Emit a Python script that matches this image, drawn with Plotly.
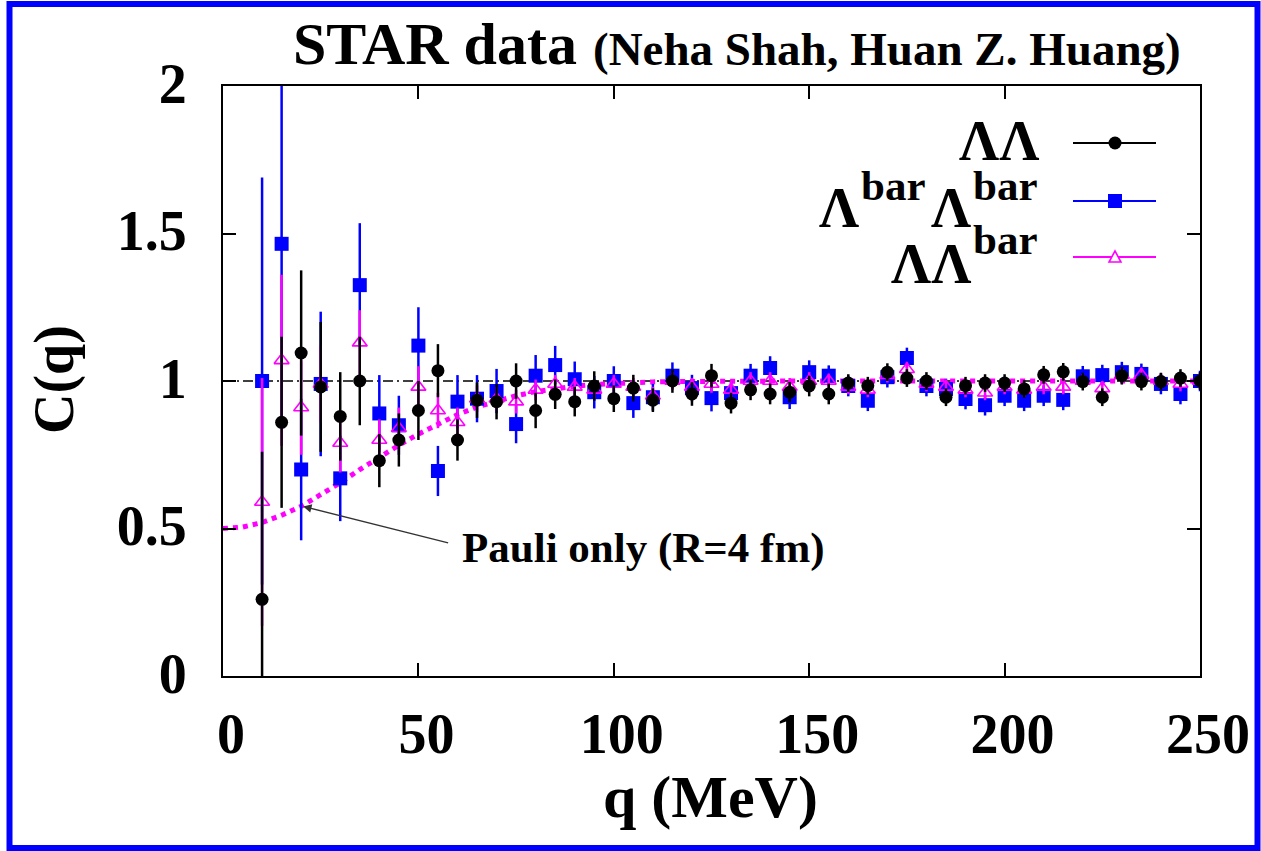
import plotly.graph_objects as go

# Relative momentum bins (MeV)
q = list(range(10, 251, 5))

# Lambda-Lambda correlation
c_ll = [0.26, 0.86, 1.095, 0.98, 0.88, 1.00, 0.73, 0.80, 0.90, 1.035,
        0.80, 0.935, 0.93, 1.00, 0.90, 0.955, 0.93, 0.983, 0.94, 0.976,
        0.935, 1.00, 0.956, 1.018, 0.925, 0.97, 0.956, 0.962, 0.983, 0.956,
        0.993, 0.984, 1.03, 1.01, 1.00, 0.945, 0.984, 0.993, 0.993, 0.973,
        1.021, 1.031, 0.998, 0.945, 1.018, 0.998, 0.998, 1.01, 1.00]
e_ll = [0.50, 0.29, 0.28, 0.22, 0.15, 0.15, 0.09, 0.09, 0.10, 0.09,
        0.07, 0.06, 0.06, 0.06, 0.06, 0.05, 0.05, 0.05, 0.045, 0.045,
        0.04, 0.04, 0.04, 0.04, 0.035, 0.035, 0.035, 0.035, 0.035, 0.035,
        0.03, 0.03, 0.03, 0.03, 0.03, 0.03, 0.03, 0.03, 0.03, 0.03,
        0.03, 0.03, 0.03, 0.03, 0.03, 0.03, 0.03, 0.03, 0.03]

# anti-Lambda anti-Lambda correlation
c_bb = [1.00, 1.465, 0.70, 0.99, 0.67, 1.325, 0.89, 0.85, 1.12, 0.695,
        0.93, 0.94, 0.966, 0.854, 1.018, 1.054, 1.006, 0.962, 1.00, 0.925,
        0.945, 1.018, 0.976, 0.942, 0.959, 1.018, 1.044, 0.945, 1.03, 1.018,
        0.983, 0.933, 1.013, 1.078, 0.983, 0.973, 0.939, 0.918, 0.95, 0.933,
        0.95, 0.936, 1.016, 1.02, 1.03, 1.024, 0.99, 0.956, 1.00]
e_bb = [0.69, 0.60, 0.24, 0.245, 0.145, 0.21, 0.13, 0.10, 0.13, 0.085,
        0.09, 0.08, 0.075, 0.065, 0.07, 0.065, 0.06, 0.055, 0.05, 0.05,
        0.045, 0.045, 0.045, 0.045, 0.04, 0.04, 0.04, 0.04, 0.04, 0.035,
        0.035, 0.035, 0.035, 0.035, 0.035, 0.035, 0.035, 0.035, 0.035, 0.035,
        0.035, 0.035, 0.035, 0.035, 0.035, 0.035, 0.035, 0.035, 0.035]

# Lambda anti-Lambda correlation
c_lb = [0.59, 1.07, 0.91, 0.99, 0.79, 1.13, 0.80, 0.84, 0.98, 0.90,
        0.86, 0.94, 0.94, 0.93, 0.97, 0.99, 0.98, 0.97, 0.99, 0.98,
        0.95, 1.00, 0.98, 0.99, 0.97, 1.00, 1.00, 0.98, 1.00, 1.00,
        0.98, 0.97, 1.02, 1.04, 0.99, 0.98, 0.97, 0.96, 0.98, 0.97,
        0.98, 0.98, 1.00, 0.975, 1.02, 1.02, 1.00, 0.99, 1.00]
e_lb = [0.42, 0.29, 0.16, 0.13, 0.10, 0.11, 0.07, 0.07, 0.07, 0.06,
        0.05, 0.045, 0.04, 0.04, 0.035, 0.03, 0.03, 0.03, 0.03, 0.03,
        0.03, 0.03, 0.03, 0.03, 0.03, 0.03, 0.03, 0.03, 0.03, 0.025,
        0.025, 0.025, 0.025, 0.025, 0.025, 0.025, 0.025, 0.025, 0.025, 0.025,
        0.025, 0.025, 0.025, 0.025, 0.025, 0.025, 0.025, 0.025, 0.025]

# Pauli-only expectation for R = 4 fm
q_pauli = list(range(0, 251, 5))
c_pauli = [0.50, 0.505, 0.52, 0.545, 0.575, 0.613, 0.655, 0.70, 0.742, 0.782,
           0.82, 0.855, 0.886, 0.912, 0.933, 0.95, 0.964, 0.975, 0.982, 0.988,
           0.992, 0.995, 0.997, 0.998, 0.999, 1.0, 1.0, 1.0, 1.0, 1.0,
           1.0, 1.0, 1.0, 1.0, 1.0, 1.0, 1.0, 1.0, 1.0, 1.0,
           1.0, 1.0, 1.0, 1.0, 1.0, 1.0, 1.0, 1.0, 1.0, 1.0, 1.0]

x_ticks = [0, 50, 100, 150, 200, 250]
y_ticks = [0, 0.5, 1, 1.5, 2]
y_tick_text = ["0", "0.5", "1", "1.5", "2"]

W, H = 1261, 851
ML, MR, MT, MB = 223, 61, 86, 175
PW, PH = W - ML - MR, H - MT - MB

SERIF = "Liberation Serif"
BLACK, BLUE, MAGENTA = "#000000", "#0000FF", "#FF00FF"


def px(x):
    return (x - ML) / PW


def py(y):
    return (MT + PH - y) / PH


fig = go.Figure()

fig.add_trace(go.Scatter(
    x=q_pauli, y=c_pauli, mode="lines",
    line=dict(color=MAGENTA, width=5, dash="5px,5px"),
    showlegend=False, hoverinfo="skip"))

fig.add_trace(go.Scatter(
    x=q, y=c_bb, mode="markers",
    marker=dict(symbol="square", size=14, color=BLUE),
    error_y=dict(type="data", array=e_bb, color=BLUE, thickness=2.5, width=0),
    showlegend=False))

fig.add_trace(go.Scatter(
    x=q, y=c_lb, mode="markers",
    marker=dict(symbol="triangle-up-open", size=13, color=MAGENTA,
                line=dict(width=1.6, color=MAGENTA)),
    error_y=dict(type="data", array=e_lb, color=MAGENTA, thickness=2.5, width=0),
    showlegend=False))

fig.add_trace(go.Scatter(
    x=q, y=c_ll, mode="markers",
    marker=dict(symbol="circle", size=13, color=BLACK),
    error_y=dict(type="data", array=e_ll, color=BLACK, thickness=2.5, width=0),
    showlegend=False))

shapes = []
# reference line C(q) = 1
shapes.append(dict(type="line", xref="x", yref="y", x0=0, x1=250, y0=1, y1=1,
                   line=dict(color=BLACK, width=1.5, dash="10px,4px,2px,4px"),
                   layer="below"))

# legend keys
leg_x0, leg_x1, leg_xm = 1073, 1156, 1115
rows = [143, 201, 257]
for yy, col in zip(rows, [BLACK, BLUE, MAGENTA]):
    shapes.append(dict(type="line", xref="paper", yref="paper",
                       x0=px(leg_x0), x1=px(leg_x1), y0=py(yy), y1=py(yy),
                       line=dict(color=col, width=2)))
shapes.append(dict(type="circle", xref="paper", yref="paper",
                   x0=px(leg_xm - 6.5), x1=px(leg_xm + 6.5),
                   y0=py(rows[0] + 6.5), y1=py(rows[0] - 6.5),
                   fillcolor=BLACK, line=dict(color=BLACK, width=0)))
shapes.append(dict(type="rect", xref="paper", yref="paper",
                   x0=px(leg_xm - 7), x1=px(leg_xm + 7),
                   y0=py(rows[1] + 7), y1=py(rows[1] - 7),
                   fillcolor=BLUE, line=dict(color=BLUE, width=0)))
tri = "M {:.4f},{:.4f} L {:.4f},{:.4f} L {:.4f},{:.4f} Z".format(
    px(leg_xm - 6), py(rows[2] + 5), px(leg_xm + 6), py(rows[2] + 5),
    px(leg_xm), py(rows[2] - 6))
shapes.append(dict(type="path", xref="paper", yref="paper", path=tri,
                   fillcolor="white", line=dict(color=MAGENTA, width=1.6)))

# outer frame of the figure
shapes.append(dict(type="rect", xref="paper", yref="paper",
                   x0=px(9.5), x1=px(1257.5), y0=py(848), y1=py(4),
                   line=dict(color=BLUE, width=6), layer="above"))


def txt(text, x, y, size, xanchor="center", angle=0):
    return dict(text=text, xref="paper", yref="paper", x=px(x), y=py(y),
                xanchor=xanchor, yanchor="middle", showarrow=False,
                textangle=angle, borderpad=0,
                font=dict(family=SERIF, size=size, color=BLACK, weight="bold"))


annotations = [
    txt("STAR data", 578, 44, 60, xanchor="right"),
    txt("(Neha Shah, Huan Z. Huang)", 592, 49, 47, xanchor="left"),
    txt("q (MeV)", 710, 797, 60),
    txt("C(q)", 54, 380, 56, angle=-90),
    txt("Pauli only (R=4 fm)", 461, 548, 43, xanchor="left"),
    # legend labels
    txt("ΛΛ", 1040, 141, 56, xanchor="right"),
    txt("Λ", 818, 208, 56, xanchor="left"),
    txt("bar", 860, 185, 43, xanchor="left"),
    txt("Λ", 930, 208, 56, xanchor="left"),
    txt("bar", 972, 185, 43, xanchor="left"),
    txt("ΛΛ", 890, 264, 56, xanchor="left"),
    txt("bar", 972, 239, 43, xanchor="left"),
    dict(x=20.5, y=0.575, ax=58, ay=0.45, xref="x", yref="y",
         axref="x", ayref="y", text="", showarrow=True,
         arrowhead=2, arrowsize=1.2, arrowwidth=1.4, arrowcolor="#333333"),
]

axis_common = dict(
    showline=True, linecolor=BLACK, linewidth=2, mirror="ticks",
    ticks="inside", ticklen=13, tickwidth=2, tickcolor=BLACK,
    showgrid=False, zeroline=False,
    tickfont=dict(family=SERIF, size=56, color=BLACK, weight="bold"),
)

fig.update_layout(
    width=W, height=H,
    margin=dict(l=ML, r=MR, t=MT, b=MB, autoexpand=False),
    paper_bgcolor="white", plot_bgcolor="white",
    xaxis=dict(range=[0, 250], tickvals=x_ticks, ticklabelstandoff=8,
               ticklabelshift=8, **axis_common),
    yaxis=dict(range=[0, 2], tickvals=y_ticks, ticktext=y_tick_text,
               ticklabelstandoff=23, ticklabelshift=-3, **axis_common),
    shapes=shapes,
    annotations=annotations,
    showlegend=False,
)

fig.write_html("out.html")
